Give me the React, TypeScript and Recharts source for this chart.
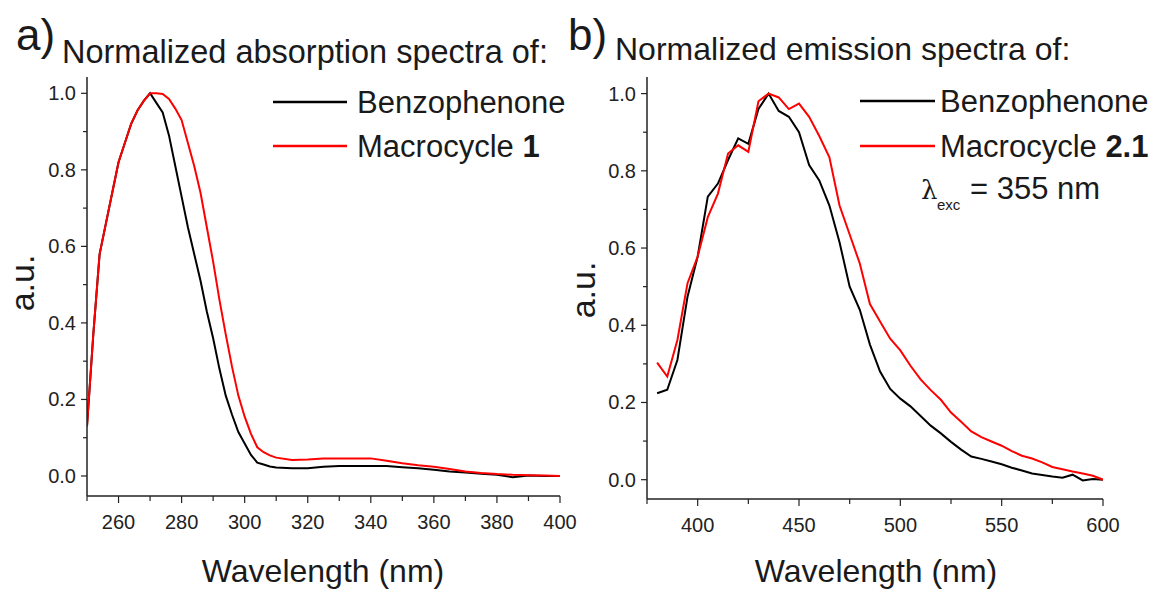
import React from 'react';
import { LineChart, Line, XAxis, YAxis } from 'recharts';

// a) absorption
const absNm = [
  250, 252, 254, 256, 258, 260, 262, 264, 266, 268, 270, 272, 274, 276, 278, 280,
  282, 284, 286, 288, 290, 292, 294, 296, 298, 300, 302, 304, 306, 308, 310,
  315, 320, 325, 330, 335, 340, 345, 350, 355, 360, 365, 370, 375, 380, 385, 390, 395, 400,
];
const absBenzo = [
  0.13, 0.37, 0.58, 0.66, 0.74, 0.82, 0.87, 0.92, 0.955, 0.98, 1.0, 0.975, 0.95, 0.89, 0.81, 0.73,
  0.65, 0.58, 0.51, 0.43, 0.36, 0.28, 0.21, 0.16, 0.115, 0.085, 0.055, 0.035, 0.03, 0.025, 0.022,
  0.02, 0.02, 0.024, 0.026, 0.026, 0.026, 0.026, 0.023, 0.02, 0.016, 0.012, 0.009, 0.006, 0.003, -0.003, 0.001, 0.0, 0.0,
];
const absMacro = [
  0.13, 0.37, 0.58, 0.66, 0.74, 0.82, 0.87, 0.92, 0.955, 0.98, 1.0, 1.0, 0.998, 0.985, 0.96, 0.93,
  0.87, 0.81, 0.74, 0.65, 0.56, 0.46, 0.37, 0.285, 0.21, 0.155, 0.11, 0.075, 0.062, 0.054, 0.048,
  0.042, 0.043, 0.046, 0.046, 0.046, 0.046, 0.04, 0.033, 0.028, 0.024, 0.018, 0.012, 0.008, 0.005, 0.003, 0.002, 0.001, 0.0,
];

// b) emission
const emNm = [
  380, 385, 390, 395, 400, 405, 410, 415, 420, 425, 430, 435, 440, 445, 450, 455, 460, 465, 470, 475,
  480, 485, 490, 495, 500, 505, 510, 515, 520, 525, 530, 535, 540, 545, 550, 555, 560, 565, 570, 575,
  580, 585, 590, 595, 600,
];
const emBenzo = [
  0.224, 0.233, 0.31, 0.474, 0.578, 0.733, 0.767, 0.828, 0.884, 0.87, 0.96, 1.0, 0.955, 0.94, 0.9, 0.815, 0.775, 0.71, 0.615, 0.5,
  0.44, 0.35, 0.28, 0.235, 0.21, 0.19, 0.165, 0.14, 0.12, 0.098, 0.078, 0.06, 0.054, 0.047, 0.04, 0.031, 0.024, 0.016, 0.012, 0.008,
  0.005, 0.013, -0.002, 0.002, 0,
];
const emMacro = [
  0.303, 0.267, 0.362, 0.509, 0.578, 0.68, 0.741, 0.845, 0.866, 0.849, 0.98, 1.0, 0.99, 0.96, 0.974, 0.94, 0.89, 0.835, 0.71, 0.635,
  0.56, 0.455, 0.41, 0.365, 0.335, 0.295, 0.26, 0.232, 0.207, 0.174, 0.15, 0.125, 0.11, 0.099, 0.088, 0.074, 0.062, 0.055, 0.045, 0.033,
  0.027, 0.021, 0.016, 0.01, 0,
];

// ticks (minor + major), labels only on majors
const yTicks = [0, 0.1, 0.2, 0.3, 0.4, 0.5, 0.6, 0.7, 0.8, 0.9, 1.0];
const absXTicks = [250, 260, 270, 280, 290, 300, 310, 320, 330, 340, 350, 360, 370, 380, 390, 400];
const emXTicks = [375, 400, 425, 450, 475, 500, 525, 550, 575, 600];

const absData = absNm.map((nm, i) => ({ nm, benzo: absBenzo[i], macro: absMacro[i] }));
const emData = emNm.map((nm, i) => ({ nm, benzo: emBenzo[i], macro: emMacro[i] }));

const FONT = '"Liberation Sans", Arial, sans-serif';
const AXIS = '#222';

const isMajorY = (v: number) => Math.round(v * 10) % 2 === 0;

const YTick = (props: any) => {
  const { x, y, payload } = props;
  const major = isMajorY(payload.value);
  return (
    <g>
      <line x1={x - (major ? 6 : 4)} x2={x} y1={y} y2={y} stroke={AXIS} strokeWidth={1.2} />
      {major && (
        <text x={x - 11} y={y + 7} textAnchor="end" fontSize={20} fontFamily={FONT} fill={AXIS}>
          {Number(payload.value).toFixed(1)}
        </text>
      )}
    </g>
  );
};

const makeXTick = (isMajor: (v: number) => boolean) => (props: any) => {
  const { x, y, payload } = props;
  const major = isMajor(payload.value);
  return (
    <g>
      <line x1={x} x2={x} y1={y} y2={y + (major ? 7 : 5)} stroke={AXIS} strokeWidth={1.2} />
      {major && (
        <text x={x} y={y + 33} textAnchor="middle" fontSize={20} fontFamily={FONT} fill={AXIS}>
          {payload.value}
        </text>
      )}
    </g>
  );
};

const AbsXTick = makeXTick((v) => v >= 260 && (v - 260) % 20 === 0);
const EmXTick = makeXTick((v) => v >= 400 && (v - 400) % 50 === 0);

const Panel = ({ data, xDomain, xTicks, XTick, yDomain, width, margin }: any) => (
  <LineChart width={width} height={592} data={data} margin={margin}>
    <XAxis
      dataKey="nm"
      type="number"
      domain={xDomain}
      ticks={xTicks}
      interval={0}
      allowDataOverflow
      height={40}
      tickSize={0}
      tickMargin={0}
      tickLine={false}
      axisLine={{ stroke: AXIS, strokeWidth: 1.5 }}
      tick={(p: any) => <XTick {...p} />}
    />
    <YAxis
      type="number"
      domain={yDomain}
      ticks={yTicks}
      interval={0}
      allowDataOverflow
      width={40}
      tickSize={0}
      tickMargin={0}
      tickLine={false}
      axisLine={{ stroke: AXIS, strokeWidth: 1.5 }}
      tick={(p: any) => <YTick {...p} />}
    />
    <Line type="linear" dataKey="benzo" stroke="#000000" strokeWidth={2} dot={false} isAnimationActive={false} />
    <Line type="linear" dataKey="macro" stroke="#ff0000" strokeWidth={2} dot={false} isAnimationActive={false} />
  </LineChart>
);

const App: React.FC = () => {
  return (
    <div style={{ position: 'absolute', left: 0, top: 0, width: 1162, height: 592, background: '#fff', overflow: 'hidden' }}>
      <div style={{ position: 'absolute', left: 0, top: 0 }}>
        <Panel
          data={absData}
          width={580}
          xDomain={[250, 400]}
          xTicks={absXTicks}
          XTick={AbsXTick}
          yDomain={[-0.0523, 1.0426]}
          margin={{ top: 77, right: 20, left: 47, bottom: 56 }}
        />
      </div>
      <div style={{ position: 'absolute', left: 580, top: 0 }}>
        <Panel
          data={emData}
          width={582}
          xDomain={[375, 600]}
          xTicks={emXTicks}
          XTick={EmXTick}
          yDomain={[-0.05, 1.043]}
          margin={{ top: 77, right: 59, left: 27, bottom: 53 }}
        />
      </div>
      <svg
        width={1162}
        height={592}
        style={{ position: 'absolute', left: 0, top: 0, pointerEvents: 'none' }}
        fontFamily={FONT}
        fill="#1a1a1a"
      >
        {/* panel a */}
        <text x={16} y={50} fontSize={44}>a)</text>
        <text x={62} y={63} fontSize={32.5}>Normalized absorption spectra of:</text>
        <line x1={273} x2={347} y1={102} y2={102} stroke="#000" strokeWidth={2.5} />
        <text x={357} y={113} fontSize={31}>Benzophenone</text>
        <line x1={273} x2={347} y1={146} y2={146} stroke="#ff0000" strokeWidth={2.5} />
        <text x={357} y={157} fontSize={31}>
          Macrocycle <tspan fontWeight="bold">1</tspan>
        </text>
        <text transform="translate(34,283) rotate(-90)" textAnchor="middle" fontSize={34}>a.u.</text>
        <text x={323} y={582} textAnchor="middle" fontSize={32}>Wavelength (nm)</text>

        {/* panel b */}
        <text x={568} y={50} fontSize={44}>b)</text>
        <text x={615} y={60} fontSize={32}>Normalized emission spectra of:</text>
        <line x1={860} x2={935} y1={101} y2={101} stroke="#000" strokeWidth={2.5} />
        <text x={940} y={112} fontSize={31}>Benzophenone</text>
        <line x1={860} x2={935} y1={146} y2={146} stroke="#ff0000" strokeWidth={2.5} />
        <text x={940} y={157} fontSize={31}>
          Macrocycle <tspan fontWeight="bold">2.1</tspan>
        </text>
        <text x={921} y={199} fontSize={26} fontFamily="DejaVu Serif, serif">λ</text>
        <text x={937} y={210} fontSize={15}>exc</text>
        <text x={970} y={199} fontSize={31}>= 355 nm</text>
        <text transform="translate(595,290) rotate(-90)" textAnchor="middle" fontSize={34}>a.u.</text>
        <text x={876} y={582} textAnchor="middle" fontSize={32}>Wavelength (nm)</text>
      </svg>
    </div>
  );
};

export default App;
